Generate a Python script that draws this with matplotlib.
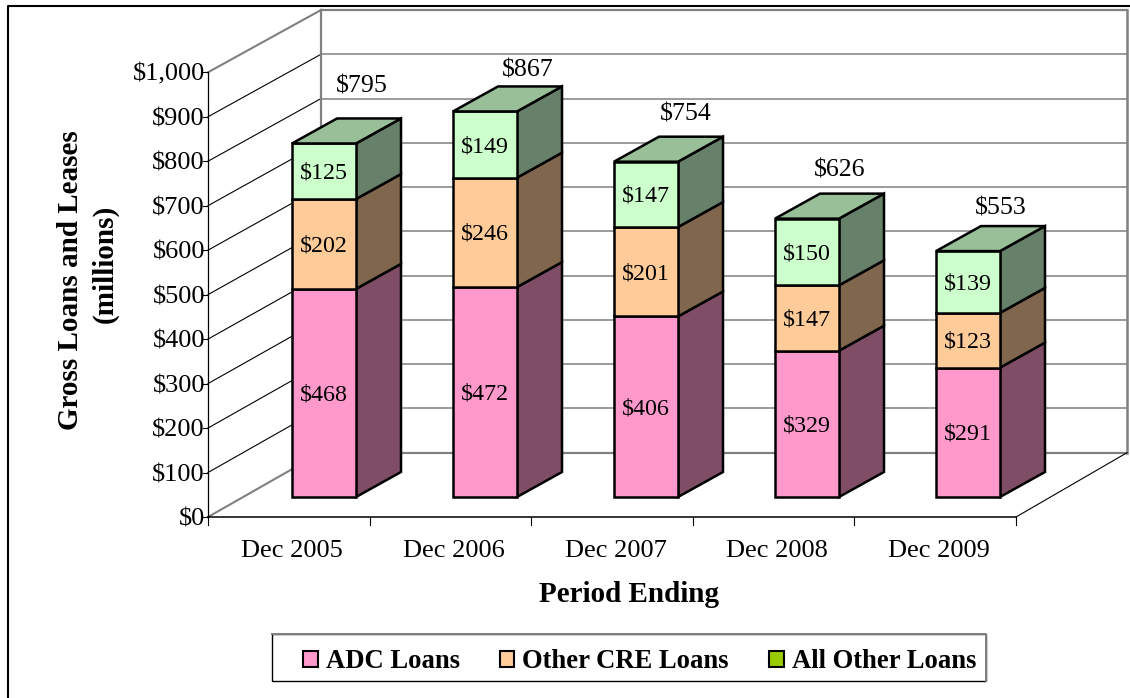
"""3-D style stacked column chart of gross loans and leases."""

import matplotlib
matplotlib.use("Agg")
import matplotlib.pyplot as plt
from matplotlib.patches import Patch
import numpy as np

periods = ["Dec 2005", "Dec 2006", "Dec 2007", "Dec 2008", "Dec 2009"]
adc_loans = [468, 472, 406, 329, 291]
other_cre = [202, 246, 201, 147, 123]
all_other = [125, 149, 147, 150, 139]
totals = [795, 867, 754, 626, 553]
y_ticks = list(range(0, 1001, 100))
legend_names = ["ADC Loans", "Other CRE Loans", "All Other Loans"]

# front, side, top face colours per series
FRONT = ["#FF99CC", "#FFCC99", "#CCFFCC"]
SIDE = ["#7F4D66", "#7F664D", "#66806A"]
TOP_FACE = "#99BF99"
LEGEND_COLORS = ["#FF99CC", "#FFCC99", "#99CC00"]

# pixel scale of the picture
W, H = 1130, 698
X0, Y0 = 208, 517
PX_CAT = 161.6
PX_VAL = 0.4447


def px(x):
    return (x - X0) / PX_CAT


def py(y):
    return (Y0 - y) / PX_VAL


def back_y(v):
    # back wall is a touch flatter than the front scale
    return py(452.7) + v * 0.9955


# chart depth (walls) and bar placement, in data units
WALL_LEFT, WALL_RIGHT = px(321), px(1127)
BAR_DX, BAR_DY = 45 / PX_CAT, 25 / PX_VAL
BAR_OFF_Y = 20 / PX_VAL
BAR_FIRST, BAR_STEP, BAR_W = px(292), 161 / PX_CAT, 64 / PX_CAT

# where the total labels sit relative to the bar's front top left corner (px)
TOTAL_OFFSETS = [(70, -59), (75, -43), (72, -50), (65, -51), (65, -45)]
TXT_DROP = 2.5 / PX_VAL  # centre of the digits sits lower than the text box centre

plt.rcParams["font.family"] = ["Liberation Serif", "DejaVu Serif"]

fig = plt.figure(figsize=(W / 100, H / 100), dpi=100)
ax = fig.add_axes([0, 0, 1, 1])
ax.set_xlim(px(0), px(W))
ax.set_ylim(py(H), py(0))
ax.axis("off")

# outer frame
ax.plot([px(8), px(8), px(W)], [py(H), py(6), py(6)], color="black", lw=1.5, zorder=1)

n = len(periods)
GRAY = "#808080"

# walls and gridlines
for v in y_ticks:
    edge = v in (0, 1000)
    ax.plot([0, WALL_LEFT], [v, back_y(v)], color=GRAY if edge else "black",
            lw=1.5 if edge else 0.8, zorder=2)
    ax.plot([WALL_LEFT, WALL_RIGHT], [back_y(v), back_y(v)], color=GRAY,
            lw=1.6 if edge else 1.1, zorder=2)
    ax.plot([-5 / PX_CAT, 0], [v, v], color="black", lw=0.8, zorder=3)
    ax.text(px(205), v - TXT_DROP, f"${v:,}", ha="right", va="center", fontsize=19, zorder=4)
ax.plot([WALL_LEFT, WALL_LEFT], [back_y(0), back_y(1000)], color=GRAY, lw=1.6, zorder=2)
ax.plot([WALL_RIGHT] * 2, [back_y(0), back_y(1000)], color=GRAY, lw=1.8, zorder=2)

# axes lines, floor edge
ax.plot([0, 0], [0, 1000], color="black", lw=0.9, zorder=3)
ax.plot([0, n], [0, 0], color="black", lw=1.1, zorder=3)
ax.plot([n, WALL_RIGHT], [0, back_y(0)], color="black", lw=0.8, zorder=2)
for i in range(n + 1):
    ax.plot([i, i], [0, -8 / PX_VAL], color="black", lw=0.8, zorder=3)
for i, name in enumerate(periods):
    ax.text(i + 0.5 + 3.5 / PX_CAT, py(551), name, ha="center", va="center", fontsize=19)

# stacked bars
series = np.array([adc_loans, other_cre, all_other])
for i in range(n):
    left = BAR_FIRST + i * BAR_STEP
    right = left + BAR_W
    bottom = BAR_OFF_Y
    zb = 5 + i
    for k, vals in enumerate(series):
        v = vals[i]
        front = [(left, bottom), (right, bottom), (right, bottom + v), (left, bottom + v)]
        side = [(right, bottom), (right + BAR_DX, bottom + BAR_DY),
                (right + BAR_DX, bottom + v + BAR_DY), (right, bottom + v)]
        ax.add_patch(plt.Polygon(side, facecolor=SIDE[k], edgecolor="black",
                                 lw=1.8, joinstyle="miter", zorder=zb))
        ax.add_patch(plt.Polygon(front, facecolor=FRONT[k], edgecolor="black",
                                 lw=1.8, joinstyle="miter", zorder=zb))
        ax.text((left + right) / 2, bottom + v / 2 - TXT_DROP * 0.8, f"${v}", ha="center",
                va="center", fontsize=17.3, zorder=zb + 0.5)
        bottom += v
    top = [(left, bottom), (right, bottom), (right + BAR_DX, bottom + BAR_DY),
           (left + BAR_DX, bottom + BAR_DY)]
    ax.add_patch(plt.Polygon(top, facecolor=TOP_FACE, edgecolor="black", lw=1.8,
                             joinstyle="miter", zorder=zb))
    ox, oy = TOTAL_OFFSETS[i]
    ax.text(left + ox / PX_CAT, bottom - oy / PX_VAL - TXT_DROP, f"${totals[i]}", ha="center",
            va="center", fontsize=18.6, zorder=20)

# axis titles
ax.text(px(71), py(280), "Gross Loans and Leases", rotation=90, ha="center",
        va="center", fontsize=21, fontweight="bold")
ax.text(px(105), py(264), "(millions)", rotation=90, ha="center", va="center",
        fontsize=21, fontweight="bold")
ax.text(px(629.5), py(594.5), "Period Ending", ha="center", va="center", fontsize=21,
        fontweight="bold")

# legend: box drawn on its own, the reference pads it unevenly
ax.add_patch(plt.Rectangle((px(272), py(681)), 714 / PX_CAT, 47 / PX_VAL, facecolor="white",
                           edgecolor="black", lw=1.0, zorder=25))
ax.plot([px(272), px(986), px(986)], [py(634), py(634), py(681)], color=GRAY, lw=1.4, zorder=26)
handles = [Patch(facecolor=c, edgecolor="black", lw=1.5, label=name)
           for c, name in zip(LEGEND_COLORS, legend_names)]
leg = ax.legend(handles=handles, ncol=3, loc="center",
                bbox_to_anchor=(639.5 / W, 1 - 661.5 / H), bbox_transform=fig.transFigure,
                prop={"weight": "bold", "size": 19.2}, frameon=False,
                handlelength=0.55, handleheight=0.55,
                handletextpad=0.3, columnspacing=1.5, borderpad=0, borderaxespad=0)
leg.set_zorder(30)

fig.savefig("out.png", dpi=100)
plt.close(fig)
